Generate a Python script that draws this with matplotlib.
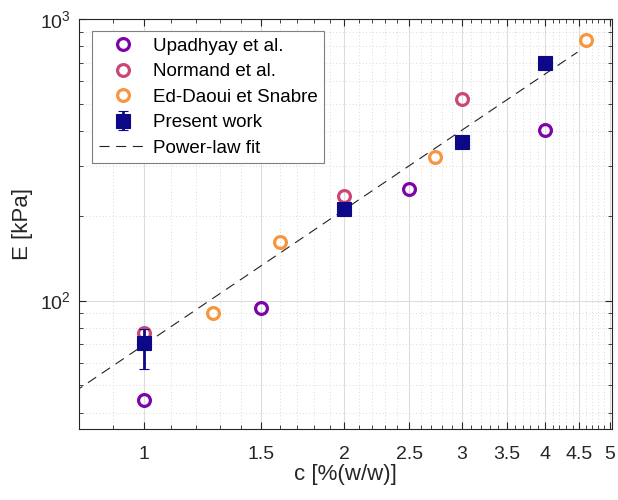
import numpy as np
import matplotlib
matplotlib.use('Agg')
import matplotlib.pyplot as plt
from matplotlib.ticker import FixedLocator, MultipleLocator, NullFormatter, LogLocator

plt.rcParams['font.family'] = ['Liberation Sans', 'DejaVu Sans']
plt.rcParams['mathtext.fontset'] = 'custom'
plt.rcParams['mathtext.rm'] = 'Liberation Sans'
plt.rcParams['mathtext.it'] = 'Liberation Sans:italic'
plt.rcParams['mathtext.default'] = 'regular'

# literature data, E [kPa] vs c [%(w/w)]
upadhyay_c = [1.0, 1.5, 2.5, 4.0]
upadhyay_E = [44.4, 94.4, 249, 405]

normand_c = [1.0, 2.0, 3.0]
normand_E = [76.5, 236, 518]

daoui_c = [1.27, 1.6, 2.73, 4.6]
daoui_E = [90.6, 162, 323, 841]

# our measurements with asymmetric error bars
present_c = [1.0, 2.0, 3.0, 4.0]
present_E = [70.8, 211, 366, 696]
present_err_lo = [13.5, 6, 16, 30]
present_err_hi = [8.5, 6, 16, 30]

# power-law fit E = A * c^n
fit_A = 69.5
fit_n = 1.6
fit_cmin, fit_cmax = 0.75, 4.47

xtick_vals = [1, 1.5, 2, 2.5, 3, 3.5, 4, 4.5, 5]

cmap = plt.get_cmap('plasma')
col_up = cmap(0.25)
col_no = cmap(0.5)
col_ed = cmap(0.75)
col_pw = cmap(0.0)

fig = plt.figure(figsize=(6.18, 5.0), dpi=100)
ax = fig.add_axes([0.1278, 0.142, 0.8630, 0.820])

ax.set_xscale('log')
ax.set_yscale('log')

mk = dict(linestyle='none', marker='o', markersize=8.5, markeredgewidth=2.3,
          markerfacecolor='none')
h_up, = ax.plot(upadhyay_c, upadhyay_E, markeredgecolor=col_up, label='Upadhyay et al.', **mk)
h_no, = ax.plot(normand_c, normand_E, markeredgecolor=col_no, label='Normand et al.', **mk)
h_ed, = ax.plot(daoui_c, daoui_E, markeredgecolor=col_ed, label='Ed-Daoui et Snabre', **mk)
h_pw = ax.errorbar(present_c, present_E, yerr=[present_err_lo, present_err_hi],
                   fmt='s', color=col_pw, markersize=10, markeredgewidth=0.8,
                   elinewidth=2, capsize=3.6, capthick=2, label='Present work')

c_fit = np.linspace(fit_cmin, fit_cmax, 200)
h_fit, = ax.plot(c_fit, fit_A * c_fit ** fit_n, color='#222222', linewidth=0.8,
                 linestyle=(0, (9, 6)), label='Power-law fit')

ax.set_xlim(0.8, 5.04)
ax.set_ylim(35, 1000)

ax.xaxis.set_major_locator(FixedLocator(xtick_vals))
ax.set_xticklabels([f'{v:g}' for v in xtick_vals])
ax.xaxis.set_minor_locator(MultipleLocator(0.1))
ax.xaxis.set_minor_formatter(NullFormatter())
ax.yaxis.set_major_locator(LogLocator(base=10))
ax.yaxis.set_minor_locator(LogLocator(base=10, subs=np.arange(2, 10)))
ax.yaxis.set_minor_formatter(NullFormatter())

ax.grid(True, which='major', color='#dcdcdc', linewidth=0.8, linestyle='-')
ax.grid(True, which='minor', color='#cfcfcf', linewidth=0.6, linestyle=(0, (1, 3)))
ax.set_axisbelow(True)

ax.tick_params(which='both', direction='in', top=True, right=True,
               labelsize=14, colors='#262626')
ax.tick_params(which='major', length=5, width=0.8)
ax.tick_params(which='minor', length=3, width=0.6)
ax.tick_params(axis='x', which='major', pad=12)
ax.tick_params(axis='y', which='major', pad=6)
for s in ax.spines.values():
    s.set_color('#262626')
    s.set_linewidth(0.8)

ax.set_xlabel('c [%(w/w)]', fontsize=16, color='#262626', labelpad=1)
ax.set_ylabel('E [kPa]', fontsize=16, color='#262626', labelpad=5)

leg = ax.legend([h_up, h_no, h_ed, h_pw, h_fit],
                ['Upadhyay et al.', 'Normand et al.', 'Ed-Daoui et Snabre',
                 'Present work', 'Power-law fit'],
                loc='upper left', bbox_to_anchor=(0.0244, 0.971), borderaxespad=0,
                fontsize=13.5, fancybox=False, framealpha=1, edgecolor='#7f7f7f',
                handlelength=2.6, handletextpad=0.3, borderpad=0.35,
                labelspacing=0.45)
leg.get_frame().set_linewidth(0.8)

fig.savefig('out.png', dpi=100)
